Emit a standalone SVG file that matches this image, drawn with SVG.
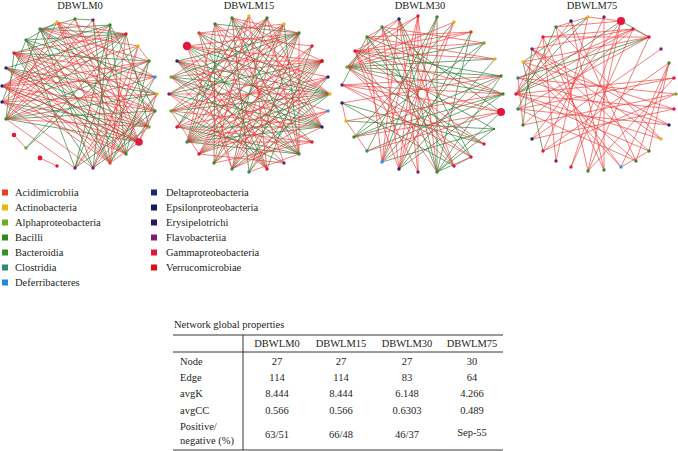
<svg xmlns="http://www.w3.org/2000/svg" width="678" height="451" viewBox="0 0 678 451">
<style>
text{font-family:"Liberation Serif","Times New Roman",serif;font-size:10.5px;fill:#231f20}
.tt{text-anchor:middle}
.er{fill:none;stroke:#ee3535;stroke-width:0.75;stroke-opacity:0.85}
.eg{fill:none;stroke:#2f7a32;stroke-width:0.75;stroke-opacity:0.9}
.y{fill:#e8b810}.g{fill:#3a8a22}.lg{fill:#6cae2a}.t{fill:#2e8b6e}.b{fill:#2196f3}
.n{fill:#1a2a78}.p{fill:#7b1f6e}.r{fill:#e4163e}.o{fill:#e8401c}.v{fill:#e01010}.e{fill:#101c5c}.s{fill:#2a1a5c}
.ln{stroke:#231f20;stroke-width:0.9}
</style>
<rect width="678" height="451" fill="#fff"/>
<g id="titles">
<text class="tt" x="80" y="9">DBWLM0</text>
<text class="tt" x="249" y="9">DBWLM15</text>
<text class="tt" x="420" y="9">DBWLM30</text>
<text class="tt" x="592" y="9">DBWLM75</text>
</g>
<g id="connectors">
<path class="eg" d="M40 29L110 25M40 29L126 34M40 29L155 111M40 29L139 142M40 29L110 163M40 29L93 168M40 29L6 119M40 29L157 94M26 40L126 34M26 40L149 127M26 40L126 154M26 40L75 168M26 40L155 77M26 40L2 102M14 53L110 25M14 53L149 61M14 53L126 154M14 53L93 168M14 53L6 119M6 68L126 34M6 68L157 94M6 68L139 142M6 68L149 127M6 119L157 94M6 119L155 111M6 119L149 61M6 119L139 142M6 119L126 34M110 25L93 168M110 25L75 168M110 25L126 154M110 25L155 111M126 34L75 168M126 34L149 127M75 19L93 20M75 19L40 29M57 22L26 40M149 61L126 154M155 77L110 163M157 94L110 163M155 111L75 168M126 154L155 111M149 127L93 168M2 86L139 142M2 102L149 127M26 148L126 34M93 168L149 61M93 20L110 163M138 46L26 148M110 163L26 40"/>
<path class="er" d="M139 142L14 53M139 142L6 68M139 142L2 86M139 142L2 102M139 142L26 40M139 142L57 22M139 142L75 19M126 154L2 86M126 154L6 68M126 154L2 102M126 154L57 22M110 163L6 68M110 163L2 86M110 163L14 53M110 163L126 34M149 127L2 86M149 127L14 53M149 127L40 29M149 127L57 22M155 111L2 86M155 111L6 68M155 111L57 22M155 111L14 53M157 94L2 102M157 94L14 53M155 77L2 86M155 77L14 53M155 77L57 22M155 77L6 119M149 61L2 86M149 61L2 102M149 61L40 29M138 46L149 61M138 46L2 86M138 46L110 163M126 34L2 102M126 34L2 86M126 34L57 22M126 34L14 53M57 22L6 119M57 22L110 163M93 20L6 119M93 20L139 142M57 166L40 158M26 148L14 135M93 168L157 94M93 168L138 46M75 168L155 77M75 168L149 61M75 19L2 102M75 19L126 154M40 29L138 46M110 25L2 86M110 25L6 119M75 168L6 119M93 168L2 102M149 127L6 119M139 142L110 163M155 111L139 142M157 94L139 142"/>
<path class="eg" d="M187 142L299 33M187 142L330 94M187 142L322 127M187 142L267 18M187 142L232 18M187 142L322 61M187 142L299 154M171 77L330 94M171 77L299 33M171 77L322 127M171 77L299 154M169 94L322 61M169 94L322 127M169 94L284 24M171 111L330 94M171 111L299 33M171 111L284 163M187 46L322 127M187 46L330 94M187 46L299 154M199 33L330 94M199 33L267 169M199 33L312 142M232 18L322 127M232 18L249 172M232 18L299 154M215 24L299 33M215 24L214 163M267 18L232 169M267 18L177 127M299 33L199 154M299 33L249 172M299 33L177 61M322 61L214 163M322 61L232 169M330 94L199 154M330 94L232 169M330 94L177 61M322 127L177 61M322 127L177 127M299 154L177 127M299 154L177 61M267 169L177 61M267 169L312 46M249 172L328 77M214 163L284 24M177 127L249 16M284 24L299 154"/>
<path class="er" d="M187 142L215 24M187 142L249 16M187 142L284 24M187 142L312 46M187 142L328 77M187 142L328 111M187 142L312 142M177 127L284 24M177 127L322 61M177 127L330 94M177 127L312 142M171 111L322 61M171 111L328 77M171 111L322 127M171 111L267 18M169 94L330 94M169 94L299 33M169 94L299 154M169 94L267 169M171 77L322 61M171 77L312 142M171 77L267 169M171 77L267 18M177 61L322 61M177 61L328 111M177 61L312 142M177 61L284 163M187 46L299 33M187 46L322 61M187 46L328 77M187 46L267 169M187 46L232 169M199 33L312 46M199 33L322 127M199 33L232 169M199 33L284 24M215 24L330 94M215 24L322 127M215 24L299 154M215 24L267 169M232 18L330 94M232 18L322 61M232 18L284 163M232 18L299 33M249 16L322 127M249 16L214 163M249 16L267 169M267 18L199 154M267 18L299 154M267 18L322 127M284 24L232 169M284 24L199 154M299 33L232 169M299 33L299 154M299 33L214 163M312 46L199 154M312 46L232 169M322 61L249 172M322 61L199 154M328 77L214 163M328 77L199 154M328 111L199 154M328 111L232 169M312 142L214 163M284 163L199 154M232 169L322 127M199 154L171 111M299 154L249 172"/>
<path class="eg" d="M347 67L501 76M347 67L503 94M347 67L484 43M347 67L495 59M347 67L484 144M367 37L503 94M367 37L471 157M367 37L454 166M355 51L501 76M355 51L494 129M382 27L437 172M382 27L501 112M399 19L437 172M399 19L471 157M437 17L367 151M437 17L382 162M437 17L437 172M454 22L354 137M471 32L437 172M471 32L399 169M484 43L382 162M484 43L354 137M501 76L354 137M501 76L437 172M503 94L367 151M503 94L399 169M501 112L437 172M494 129L437 172M494 129L382 162M495 59L399 169M471 157L437 172M454 166L342 103M354 137L503 94M346 121L494 129M342 103L484 144M342 85L367 37M347 67L382 27"/>
<path class="er" d="M399 169L418 16M399 169L437 17M399 169L382 27M399 169L355 51M382 162L418 16M382 162L399 19M382 162L454 22M382 162L367 37M382 162L501 76M418 172L399 19M418 172L418 16M418 172L355 51M437 172L418 16M437 172L355 51M454 166L399 19M454 166L382 27M454 166L347 67M471 157L347 67M471 157L342 85M484 144L342 85M484 144L355 51M501 112L347 67M501 112L342 85M501 112L367 151M503 94L342 85M503 94L355 51M501 76L342 103M501 76L342 85M495 59L355 51M495 59L367 37M484 43L355 51M484 43L382 27M471 32L355 51M471 32L367 37M471 32L347 67M454 22L347 67M418 16L355 51M418 16L347 67M399 19L367 37M399 19L347 67M346 121L503 94M354 137L501 112M399 169L454 22M454 166L471 157M367 151L346 121M342 103L346 121"/>
<path class="eg" d="M516 94L649 37M516 94L621 21M516 94L588 17M518 78L649 37M518 109L556 27M621 21L649 37M543 151L523 62M523 125L532 49M523 62L588 17"/>
<path class="er" d="M516 94L633 29M516 94L674 109M516 94L674 78M516 94L661 139M516 94L649 151M516 94L543 37M516 94L571 21M518 78L676 94M518 78L669 125M518 78L633 29M523 62L674 109M523 62L621 167M523 62L649 37M518 109L649 37M518 109L669 125M518 109L636 161M523 125L633 29M523 125L676 94M532 139L661 49M532 139L621 21M543 151L669 63M543 151L604 17M556 161L588 17M556 161L543 37M571 167L633 29M571 167L621 21M588 171L556 27M588 171L621 21M588 171L674 78M588 171L649 37M604 170L543 37M604 170L604 17M604 170L571 21M621 167L669 63M621 167L649 151M621 167L532 49M636 161L669 63M636 161L523 62M649 151L669 63M649 151L532 49M661 139L532 49M661 139L556 27M669 125L532 49M674 109L532 139M674 78L518 109M676 94L543 151M543 37L649 37M543 37L633 29M532 49L633 29M556 27L588 17M556 27L621 21M588 17L621 21M571 21L636 161M633 29L649 37M523 125L518 78"/>
</g>
<g id="net-DBWLM0">
<g id="m0-n0"><circle class="y" cx="57" cy="22" r="1.7"/></g>
<g id="m0-n1"><circle class="g" cx="75" cy="19" r="1.7"/></g>
<g id="m0-n2"><circle class="p" cx="93" cy="20" r="1.7"/></g>
<g id="m0-n3"><circle class="g" cx="110" cy="25" r="1.7"/></g>
<g id="m0-n4"><circle class="r" cx="126" cy="34" r="1.7"/></g>
<g id="m0-n5"><circle class="y" cx="138" cy="46" r="1.7"/></g>
<g id="m0-n6"><circle class="g" cx="149" cy="61" r="1.7"/></g>
<g id="m0-n7"><circle class="b" cx="155" cy="77" r="1.7"/></g>
<g id="m0-n8"><circle class="y" cx="157" cy="94" r="1.7"/></g>
<g id="m0-n9"><circle class="g" cx="155" cy="111" r="1.7"/></g>
<g id="m0-n10"><circle class="lg" cx="149" cy="127" r="1.7"/></g>
<g id="m0-n11"><circle class="r" cx="139" cy="142" r="3.8"/></g>
<g id="m0-n12"><circle class="g" cx="126" cy="154" r="1.7"/></g>
<g id="m0-n13"><circle class="o" cx="110" cy="163" r="1.7"/></g>
<g id="m0-n14"><circle class="p" cx="93" cy="168" r="1.7"/></g>
<g id="m0-n15"><circle class="p" cx="75" cy="168" r="1.7"/></g>
<g id="m0-n16"><circle class="r" cx="57" cy="166" r="1.7"/></g>
<g id="m0-n17"><circle class="r" cx="40" cy="158" r="2.4"/></g>
<g id="m0-n18"><circle class="lg" cx="26" cy="148" r="1.7"/></g>
<g id="m0-n19"><circle class="r" cx="14" cy="135" r="2.3"/></g>
<g id="m0-n20"><circle class="g" cx="6" cy="119" r="1.7"/></g>
<g id="m0-n21"><circle class="n" cx="2" cy="102" r="1.7"/></g>
<g id="m0-n22"><circle class="n" cx="2" cy="86" r="1.7"/></g>
<g id="m0-n23"><circle class="n" cx="6" cy="68" r="1.7"/></g>
<g id="m0-n24"><circle class="r" cx="14" cy="53" r="1.7"/></g>
<g id="m0-n25"><circle class="t" cx="26" cy="40" r="1.7"/></g>
<g id="m0-n26"><circle class="t" cx="40" cy="29" r="1.7"/></g>
</g>
<g id="net-DBWLM15">
<g id="m15-n0"><circle class="g" cx="232" cy="18" r="1.7"/></g>
<g id="m15-n1"><circle class="y" cx="249" cy="16" r="1.7"/></g>
<g id="m15-n2"><circle class="g" cx="267" cy="18" r="1.7"/></g>
<g id="m15-n3"><circle class="y" cx="284" cy="24" r="1.7"/></g>
<g id="m15-n4"><circle class="g" cx="299" cy="33" r="1.7"/></g>
<g id="m15-n5"><circle class="r" cx="312" cy="46" r="1.7"/></g>
<g id="m15-n6"><circle class="v" cx="322" cy="61" r="1.9"/></g>
<g id="m15-n7"><circle class="n" cx="328" cy="77" r="1.7"/></g>
<g id="m15-n8"><circle class="y" cx="330" cy="94" r="1.7"/></g>
<g id="m15-n9"><circle class="b" cx="328" cy="111" r="1.7"/></g>
<g id="m15-n10"><circle class="n" cx="322" cy="127" r="1.7"/></g>
<g id="m15-n11"><circle class="r" cx="312" cy="142" r="1.7"/></g>
<g id="m15-n12"><circle class="g" cx="299" cy="154" r="1.7"/></g>
<g id="m15-n13"><circle class="p" cx="284" cy="163" r="1.7"/></g>
<g id="m15-n14"><circle class="r" cx="267" cy="169" r="1.7"/></g>
<g id="m15-n15"><circle class="t" cx="249" cy="172" r="1.7"/></g>
<g id="m15-n16"><circle class="t" cx="232" cy="169" r="1.7"/></g>
<g id="m15-n17"><circle class="g" cx="214" cy="163" r="1.7"/></g>
<g id="m15-n18"><circle class="r" cx="199" cy="154" r="1.7"/></g>
<g id="m15-n19"><circle class="t" cx="187" cy="142" r="1.7"/></g>
<g id="m15-n20"><circle class="r" cx="177" cy="127" r="1.7"/></g>
<g id="m15-n21"><circle class="lg" cx="171" cy="111" r="1.7"/></g>
<g id="m15-n22"><circle class="p" cx="169" cy="94" r="1.7"/></g>
<g id="m15-n23"><circle class="lg" cx="171" cy="77" r="1.7"/></g>
<g id="m15-n24"><circle class="n" cx="177" cy="61" r="1.7"/></g>
<g id="m15-n25"><circle class="r" cx="187" cy="46" r="4.2"/></g>
<g id="m15-n26"><circle class="o" cx="199" cy="33" r="1.7"/></g>
<g id="m15-n27"><circle class="g" cx="215" cy="24" r="1.7"/></g>
</g>
<g id="net-DBWLM30">
<g id="m30-n0"><circle class="n" cx="399" cy="19" r="1.7"/></g>
<g id="m30-n1"><circle class="r" cx="418" cy="16" r="1.7"/></g>
<g id="m30-n2"><circle class="g" cx="437" cy="17" r="1.7"/></g>
<g id="m30-n3"><circle class="y" cx="454" cy="22" r="1.7"/></g>
<g id="m30-n4"><circle class="o" cx="471" cy="32" r="1.7"/></g>
<g id="m30-n5"><circle class="lg" cx="484" cy="43" r="1.7"/></g>
<g id="m30-n6"><circle class="y" cx="495" cy="59" r="1.7"/></g>
<g id="m30-n7"><circle class="g" cx="501" cy="76" r="1.7"/></g>
<g id="m30-n8"><circle class="g" cx="503" cy="94" r="1.7"/></g>
<g id="m30-n9"><circle class="r" cx="501" cy="112" r="4"/></g>
<g id="m30-n10"><circle class="g" cx="494" cy="129" r="1.2"/></g>
<g id="m30-n11"><circle class="r" cx="484" cy="144" r="1.7"/></g>
<g id="m30-n12"><circle class="r" cx="471" cy="157" r="1.7"/></g>
<g id="m30-n13"><circle class="r" cx="454" cy="166" r="1.7"/></g>
<g id="m30-n14"><circle class="g" cx="437" cy="172" r="1.7"/></g>
<g id="m30-n15"><circle class="p" cx="418" cy="172" r="1.7"/></g>
<g id="m30-n16"><circle class="n" cx="399" cy="169" r="1.7"/></g>
<g id="m30-n17"><circle class="b" cx="382" cy="162" r="1.7"/></g>
<g id="m30-n18"><circle class="t" cx="367" cy="151" r="1.7"/></g>
<g id="m30-n19"><circle class="g" cx="354" cy="137" r="1.7"/></g>
<g id="m30-n20"><circle class="y" cx="346" cy="121" r="1.7"/></g>
<g id="m30-n21"><circle class="n" cx="342" cy="103" r="1.7"/></g>
<g id="m30-n22"><circle class="p" cx="342" cy="85" r="1.7"/></g>
<g id="m30-n23"><circle class="lg" cx="347" cy="67" r="1.7"/></g>
<g id="m30-n24"><circle class="r" cx="355" cy="51" r="1.7"/></g>
<g id="m30-n25"><circle class="g" cx="367" cy="37" r="1.7"/></g>
<g id="m30-n26"><circle class="t" cx="382" cy="27" r="1.7"/></g>
</g>
<g id="net-DBWLM75">
<g id="m75-n0"><circle class="y" cx="588" cy="17" r="1.7"/></g>
<g id="m75-n1"><circle class="p" cx="604" cy="17" r="1.7"/></g>
<g id="m75-n2"><circle class="r" cx="621" cy="21" r="4"/></g>
<g id="m75-n3"><circle class="r" cx="633" cy="29" r="1.7"/></g>
<g id="m75-n4"><circle class="r" cx="649" cy="37" r="1.7"/></g>
<g id="m75-n5"><circle class="p" cx="661" cy="49" r="1.7"/></g>
<g id="m75-n6"><circle class="g" cx="669" cy="63" r="1.7"/></g>
<g id="m75-n7"><circle class="r" cx="674" cy="78" r="1.7"/></g>
<g id="m75-n8"><circle class="lg" cx="676" cy="94" r="1.7"/></g>
<g id="m75-n9"><circle class="r" cx="674" cy="109" r="1.7"/></g>
<g id="m75-n10"><circle class="n" cx="669" cy="125" r="1.7"/></g>
<g id="m75-n11"><circle class="y" cx="661" cy="139" r="1.7"/></g>
<g id="m75-n12"><circle class="g" cx="649" cy="151" r="1.7"/></g>
<g id="m75-n13"><circle class="g" cx="636" cy="161" r="1.7"/></g>
<g id="m75-n14"><circle class="b" cx="621" cy="167" r="1.7"/></g>
<g id="m75-n15"><circle class="g" cx="604" cy="170" r="1.7"/></g>
<g id="m75-n16"><circle class="g" cx="588" cy="171" r="1.7"/></g>
<g id="m75-n17"><circle class="r" cx="571" cy="167" r="1.7"/></g>
<g id="m75-n18"><circle class="p" cx="556" cy="161" r="1.7"/></g>
<g id="m75-n19"><circle class="r" cx="543" cy="151" r="1.7"/></g>
<g id="m75-n20"><circle class="n" cx="532" cy="139" r="1.7"/></g>
<g id="m75-n21"><circle class="g" cx="523" cy="125" r="1.7"/></g>
<g id="m75-n22"><circle class="t" cx="518" cy="109" r="1.7"/></g>
<g id="m75-n23"><circle class="r" cx="516" cy="94" r="1.7"/></g>
<g id="m75-n24"><circle class="t" cx="518" cy="78" r="1.7"/></g>
<g id="m75-n25"><circle class="y" cx="523" cy="62" r="1.7"/></g>
<g id="m75-n26"><circle class="p" cx="532" cy="49" r="1.7"/></g>
<g id="m75-n27"><circle class="r" cx="543" cy="37" r="1.7"/></g>
<g id="m75-n28"><circle class="g" cx="556" cy="27" r="1.7"/></g>
<g id="m75-n29"><circle class="n" cx="571" cy="21" r="1.7"/></g>
</g>
<g id="legend">
<rect class="o" x="2" y="189.5" width="6" height="6"/><text x="15" y="196">Acidimicrobiia</text>
<rect class="y" x="2" y="204.5" width="6" height="6"/><text x="15" y="211">Actinobacteria</text>
<rect class="lg" x="2" y="219.5" width="6" height="6"/><text x="15" y="226">Alphaproteobacteria</text>
<rect fill="#2f8a1a" x="2" y="234.5" width="6" height="6"/><text x="15" y="241">Bacilli</text>
<rect fill="#3a8f2a" x="2" y="249.5" width="6" height="6"/><text x="15" y="256">Bacteroidia</text>
<rect class="t" x="2" y="264.5" width="6" height="6"/><text x="15" y="271">Clostridia</text>
<rect fill="#1e88e5" x="2" y="279.5" width="6" height="6"/><text x="15" y="286">Deferribacteres</text>
<rect class="n" x="151" y="189.5" width="6" height="6"/><text x="166" y="196">Deltaproteobacteria</text>
<rect class="e" x="151" y="204.5" width="6" height="6"/><text x="166" y="211">Epsilonproteobacteria</text>
<rect class="s" x="151" y="219.5" width="6" height="6"/><text x="166" y="226">Erysipelotrichi</text>
<rect class="p" x="151" y="234.5" width="6" height="6"/><text x="166" y="241">Flavobacteriia</text>
<rect class="r" x="151" y="249.5" width="6" height="6"/><text x="166" y="256">Gammaproteobacteria</text>
<rect class="v" x="151" y="264.5" width="6" height="6"/><text x="166" y="271">Verrucomicrobiae</text>
</g>
<g id="table">
<text x="174" y="328">Network global properties</text>
<line class="ln" x1="173" y1="335" x2="503" y2="335"/>
<line class="ln" x1="173" y1="352" x2="503" y2="352"/>
<line class="ln" x1="173" y1="450" x2="503" y2="450"/>
<line class="ln" x1="243" y1="335" x2="243" y2="450"/>
<text class="tt" x="277" y="347">DBWLM0</text>
<text class="tt" x="341" y="347">DBWLM15</text>
<text class="tt" x="407" y="347">DBWLM30</text>
<text class="tt" x="472" y="347">DBWLM75</text>
<text x="180" y="364.5">Node</text>
<text class="tt" x="277" y="364.5">27</text><text class="tt" x="341" y="364.5">27</text><text class="tt" x="407" y="364.5">27</text><text class="tt" x="472" y="364.5">30</text>
<text x="180" y="380.5">Edge</text>
<text class="tt" x="277" y="380.5">114</text><text class="tt" x="341" y="380.5">114</text><text class="tt" x="407" y="380.5">83</text><text class="tt" x="472" y="380.5">64</text>
<text x="180" y="397">avgK</text>
<text class="tt" x="277" y="397">8.444</text><text class="tt" x="341" y="397">8.444</text><text class="tt" x="407" y="397">6.148</text><text class="tt" x="472" y="397">4.266</text>
<text x="180" y="414">avgCC</text>
<text class="tt" x="277" y="414">0.566</text><text class="tt" x="341" y="414">0.566</text><text class="tt" x="407" y="414">0.6303</text><text class="tt" x="472" y="414">0.489</text>
<text x="180" y="430">Positive/</text>
<text x="180" y="443.5">negative (%)</text>
<text class="tt" x="277" y="437.5">63/51</text><text class="tt" x="341" y="437.5">66/48</text><text class="tt" x="407" y="437.5">46/37</text><text class="tt" x="472" y="436">Sep-55</text>
</g>
</svg>
